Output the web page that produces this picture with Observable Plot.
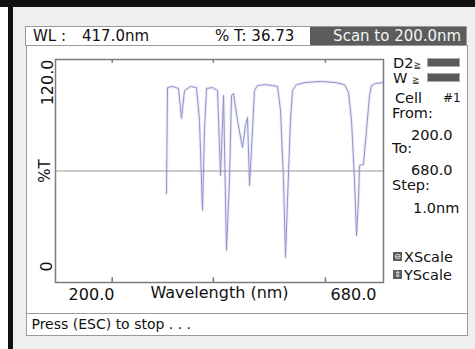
<!DOCTYPE html>
<html><head><meta charset="utf-8">
<script src="https://cdn.jsdelivr.net/npm/d3@7"></script>
<script src="https://cdn.jsdelivr.net/npm/@observablehq/plot@0.6"></script>
<style>
body{margin:0;background:#fff;}
#scr{position:relative;width:475px;height:349px;overflow:hidden;background:#efefef;font-family:"DejaVu Sans",sans-serif;color:#111;}
.abs{position:absolute;white-space:nowrap;line-height:18px;height:18px;}
.blk{position:absolute;background:#111;}
#hdr{position:absolute;left:25px;top:26px;width:440px;height:18px;border:1px solid #9a9a9a;background:#fff;font-size:15px;}
#panel{position:absolute;left:26px;top:45px;width:440px;height:267px;border:1px solid #9a9a9a;background:#fff;}
#status{position:absolute;left:26px;top:313px;width:440px;height:21px;border:1px solid #9a9a9a;background:#fff;font-size:14px;line-height:21px;}
#chart{position:absolute;left:26px;top:45px;}
.side{position:absolute;white-space:nowrap;font-size:14.5px;line-height:14px;height:14px;}
.bar{position:absolute;width:31px;height:7px;background:#5a5a5a;border:1px solid #aaa;outline:1px solid #fff;}
.ico{position:absolute;width:9px;height:9px;background:#5d5d5d;color:#fff;font-size:8px;line-height:9px;text-align:center;}
</style></head><body>
<div id="scr">
  <div style="position:absolute;left:0;top:0;width:8px;height:349px;background:#fff"></div>
  <div class="blk" style="left:0;top:0;width:475px;height:7px"></div>
  <div class="blk" style="left:8px;top:0;width:5px;height:349px"></div>
  <div id="hdr">
    <div class="abs" style="left:7px;top:0">WL :</div>
    <div class="abs" style="left:56px;top:0">417.0nm</div>
    <div class="abs" style="left:189px;top:0">% T: 36.73</div>
    <div class="abs" style="left:284px;top:0;width:156px;height:18px;background:#5c5c5c;color:#f4f4f4;text-align:right;">Scan to 200.0nm&nbsp;</div>
  </div>
  <div id="panel"></div>
  <div id="status">&nbsp;Press (ESC) to stop . . .</div>
  <div class="side" style="left:393px;top:56px">D2<span style="font-size:9px">≧</span></div>
  <div class="bar" style="left:427px;top:58px"></div>
  <div class="side" style="left:393px;top:71px">W <span style="font-size:9px">≧</span></div>
  <div class="bar" style="left:427px;top:73px"></div>
  <div class="side" style="left:395px;top:91px">Cell</div>
  <div class="side" style="left:443px;top:91px;font-size:12px">#1</div>
  <div class="side" style="left:392px;top:106px">From:</div>
  <div class="side" style="left:411px;top:128px">200.0</div>
  <div class="side" style="left:392px;top:141px">To:</div>
  <div class="side" style="left:411px;top:163px">680.0</div>
  <div class="side" style="left:392px;top:178px">Step:</div>
  <div class="side" style="left:413px;top:201px">1.0nm</div>
  <div class="ico" style="left:393px;top:252px">⊖</div>
  <div class="side" style="left:404px;top:250px">XScale</div>
  <div class="ico" style="left:393px;top:270px">⇕</div>
  <div class="side" style="left:404px;top:268px">YScale</div>
  <div id="chart"></div>
</div>
<script>
// Spectrum trace (wavelength in nm, transmittance in %T)
const wavelength = [362.4, 363.9, 371.2, 380.0, 384.4, 388.8, 397.6, 406.3, 410.7, 415.1, 418.0, 421.0, 429.8, 437.1, 441.5, 445.9, 450.2, 454.6, 457.6, 460.5, 466.3, 473.7, 478.0, 481.0, 483.9, 486.8, 491.2, 495.6, 507.3, 517.6, 524.9, 529.3, 533.7, 536.6, 539.5, 543.9, 546.8, 552.7, 565.9, 587.8, 609.8, 623.0, 628.8, 633.2, 637.6, 640.5, 643.4, 644.9, 650.7, 655.1, 659.5, 662.4, 668.3, 680.0];
const transmittance = [47.9, 104.9, 105.5, 104.4, 88.3, 103.3, 105.5, 104.9, 87.2, 38.7, 81.8, 104.4, 104.9, 103.3, 57.6, 100.6, 17.2, 54.9, 100.6, 101.7, 87.2, 72.6, 84.5, 88.8, 52.2, 71.0, 103.3, 106.0, 106.5, 106.0, 105.5, 92.6, 54.9, 13.5, 44.1, 87.2, 103.3, 106.5, 107.6, 108.2, 107.6, 106.5, 102.2, 87.2, 54.9, 25.3, 44.1, 63.0, 63.5, 81.8, 100.6, 106.0, 107.1, 107.6];
const xRange = [200, 680];          // scan range, also the two x tick labels
const yRange = [0, 120];            // %T range, also the two y tick labels
const xTickMarks = [283, 431, 595]; // unlabelled tick marks on the frame
const midLine = [60];
const xTitle = "Wavelength (nm)";
const yTitle = "%T";

const data = wavelength.map((w, i) => ({wl: w, t: transmittance[i]}));
const fmt = d => d.toFixed(1);

const chart = Plot.plot({
  width: 358, height: 268,
  marginLeft: 29, marginRight: 1, marginTop: 14, marginBottom: 31,
  style: {fontFamily: "DejaVu Sans", fontSize: "15px", color: "#111", background: "transparent", overflow: "visible"},
  x: {domain: xRange},
  y: {domain: yRange},
  marks: [
    Plot.ruleY(midLine, {stroke: "#9a9a9a", strokeWidth: 1.2}),
    Plot.lineY(data, {x: "wl", y: "t", stroke: "#6a74e6", strokeWidth: 3, strokeOpacity: 0.14}),
    Plot.lineY(data, {x: "wl", y: "t", stroke: "#9394c4", strokeWidth: 1}),
    Plot.frame({stroke: "#7c7c7c", strokeWidth: 1.5}),
    Plot.ruleX(xTickMarks, {y1: yRange[0], y2: 2.5, stroke: "#777", strokeWidth: 1.5}),
    Plot.ruleX(xTickMarks, {y1: yRange[1] - 2, y2: yRange[1], stroke: "#777", strokeWidth: 1.5}),
    Plot.axisX({anchor: "bottom", ticks: [xRange[0]], tickSize: 0, tickPadding: 6, dx: 36, fontSize: 16, tickFormat: fmt, label: null}),
    Plot.axisX({anchor: "bottom", ticks: [xRange[1]], tickSize: 0, tickPadding: 6, dx: -30, fontSize: 16, tickFormat: fmt, label: null}),
    Plot.axisY({anchor: "left", ticks: [yRange[1]], tickSize: 0, tickPadding: 3, dx: -5, rotate: -90, textAnchor: "end", fontSize: 16, tickFormat: fmt, label: null}),
    Plot.axisY({anchor: "left", ticks: [yRange[0]], tickSize: 0, tickPadding: 3, dx: -6, dy: -16, rotate: -90, textAnchor: "middle", fontSize: 16, tickFormat: d => String(d), label: null}),
    Plot.text([yTitle], {frameAnchor: "left", dx: -10, rotate: -90, textAnchor: "middle", fontSize: 15}),
    Plot.text([xTitle], {frameAnchor: "bottom", dy: 15, textAnchor: "middle", fontSize: 16})
  ]
});
document.getElementById("chart").appendChild(chart);
</script>
</body></html>
